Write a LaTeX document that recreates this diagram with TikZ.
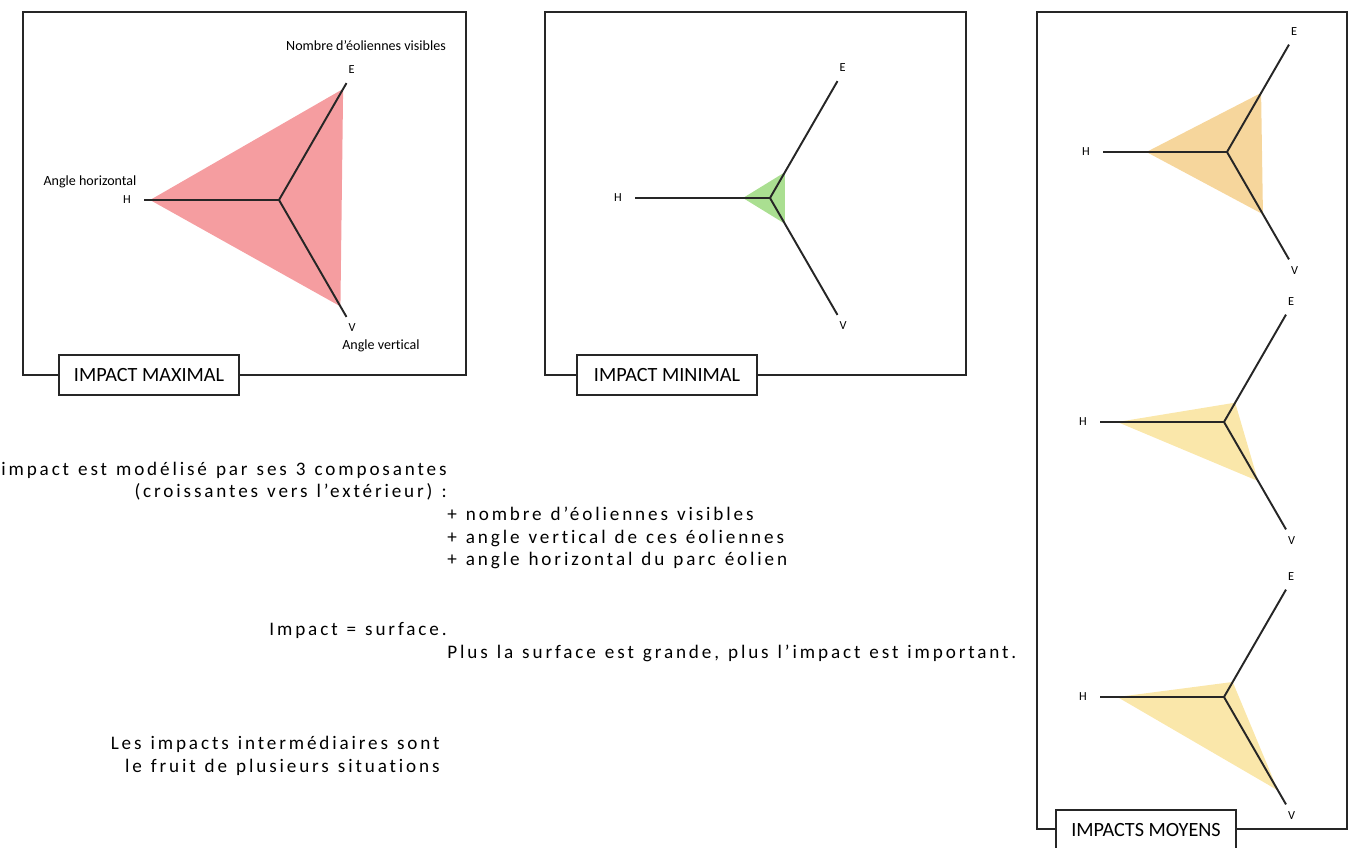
\documentclass[tikz,border=0pt]{standalone}
\usepackage{fontspec}
\setmainfont[Ligatures=NoCommon]{Carlito}
\newfontfamily\notefont[LetterSpace=15,WordSpace=1.25,Ligatures=NoCommon]{Carlito}
\usetikzlibrary{positioning}
\definecolor{maxred}{HTML}{F59DA0}
\definecolor{mingreen}{HTML}{AADF91}
\definecolor{midorange}{HTML}{F6D69C}
\definecolor{midyellow}{HTML}{FAE7AA}
\begin{document}
\begin{tikzpicture}[x=0.02cm,y=-0.02cm,
        frame/.style={line width=1.1pt,black!85},
        tag/.style={draw,line width=1.1pt,black!85,text=black,fill=white,minimum width=3.6cm,minimum height=0.8cm,inner sep=0pt,font=\fontsize{11.5}{14}\selectfont},
        axis/.style={line width=1.1pt,black!85},
        axlabel/.style={inner sep=1pt,font=\fontsize{7}{8}\selectfont},
        caption/.style={inner sep=0pt,font=\fontsize{8}{9}\selectfont},
        note/.style={inner sep=0pt,font=\notefont\fontsize{10.9}{12}\selectfont}]
    \useasboundingbox (0,0) rectangle (1357,848);
    %% frames and titles
    \draw[frame] (23,12) rectangle (466,375);
    \node[tag] (tmax) at (149,375) {IMPACT MAXIMAL};
    \draw[frame] (545,12) rectangle (966,375);
    \node[tag] (tmin) at (667,375) {IMPACT MINIMAL};
    \draw[frame] (1037,12) rectangle (1347,829);
    \node[tag] (tmid) at (1146,830) {IMPACTS MOYENS};
    %% radar charts: name/centre/length/fractions H,E,V/colour
    \foreach \n/\cx/\cy/\len/\fh/\fe/\fv/\col in {
            max/279/200/135/0.955/0.95/0.91/maxred,
            min/770/198/135/0.2/0.22/0.22/mingreen,
            a/1227/152/124/0.65/0.55/0.58/midorange,
            b/1224/422/124/0.86/0.18/0.55/midyellow,
            c/1224/697/124/0.86/0.14/0.87/midyellow}{
        \begin{scope}[shift={(\cx,\cy)}]
            \coordinate (O\n) at (0,0);
            \coordinate (H\n) at (180:\len);
            \coordinate (E\n) at (-60:\len);
            \coordinate (V\n) at (60:\len);
            %% surface
            \fill[\col] (180:{\fh*\len}) -- (-60:{\fe*\len}) -- (60:{\fv*\len}) -- cycle;
            %% axes
            \draw[axis] (H\n) -- (O\n) -- (E\n) (O\n) -- (V\n);
            \node[axlabel,left=0.22cm of H\n] (Hl\n) {H};
            \node[axlabel,above right=0.15cm and 0cm of E\n] (El\n) {E};
            \node[axlabel,below right=0.1cm and 0cm of V\n] (Vl\n) {V};
        \end{scope}
    }
    %% axis names
    \node[caption] (cE) at (366,46) {Nombre d’éoliennes visibles};
    \node[caption] (cH) at (90,182) {Angle horizontal};
    \node[caption] (cV) at (381,346) {Angle vertical};
    %% explanations
    \node[note,anchor=base east] (t1) at (447,475) {impact est modélisé par ses 3 composantes};
    \node[note,anchor=base east] (t2) at (447,497) {(croissantes vers l’extérieur) :};
    \node[note,anchor=base west] (t3) at (447,520) {+ nombre d’éoliennes visibles};
    \node[note,anchor=base west] (t4) at (447,543) {+ angle vertical de ces éoliennes};
    \node[note,anchor=base west] (t5) at (447,565) {+ angle horizontal du parc éolien};
    \node[note,anchor=base east] (t6) at (447,635) {Impact = surface.};
    \node[note,anchor=base west] (t7) at (447,658) {Plus la surface est grande, plus l’impact est important.};
    \node[note,anchor=base east] (t8) at (440,749) {Les impacts intermédiaires sont};
    \node[note,anchor=base east] (t9) at (440,772) {le fruit de plusieurs situations};
\end{tikzpicture}
\end{document}
